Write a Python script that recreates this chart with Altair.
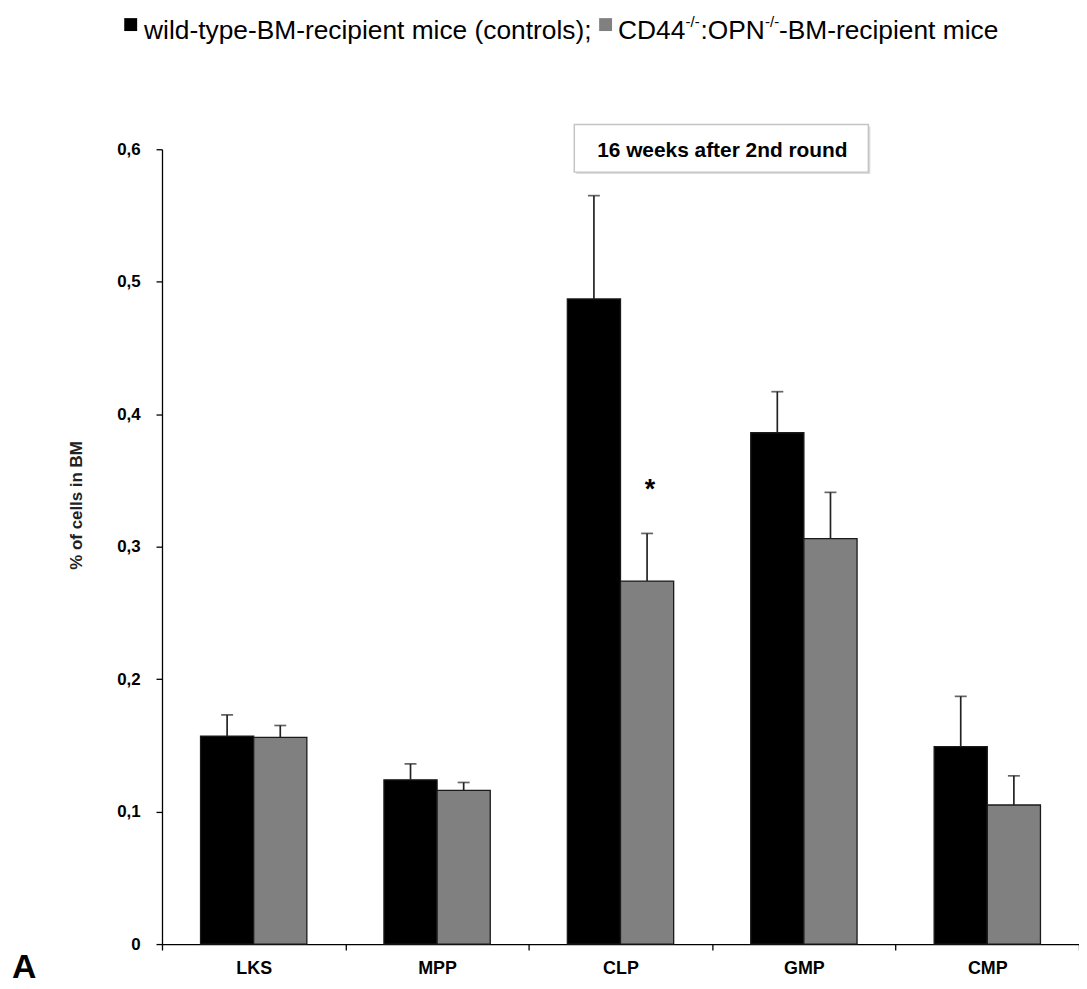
import altair as alt
import pandas as pd

# ---- data ----
categories = ["LKS", "MPP", "CLP", "GMP", "CMP"]
groups = ["wild-type-BM-recipient mice (controls)", "CD44-/-:OPN-/--BM-recipient mice"]
wt_mean = [0.157, 0.124, 0.487, 0.386, 0.149]
wt_upper = [0.173, 0.136, 0.565, 0.417, 0.187]
ko_mean = [0.156, 0.116, 0.274, 0.306, 0.105]
ko_upper = [0.165, 0.122, 0.310, 0.341, 0.127]
y_ticks = [0, 0.1, 0.2, 0.3, 0.4, 0.5, 0.6]
colors = ["#000000", "#808080"]

star_cat = ["CLP"]
star_grp = [groups[1]]
star_y = [0.343]

FONT = "Liberation Sans"

rows = []
for i, c in enumerate(categories):
    rows.append(dict(cat=c, grp=groups[0], mean=wt_mean[i], upper=wt_upper[i]))
    rows.append(dict(cat=c, grp=groups[1], mean=ko_mean[i], upper=ko_upper[i]))
df = pd.DataFrame(rows)
df_star = pd.DataFrame(dict(cat=star_cat, grp=star_grp, y=star_y, t=["*"]))

W, H = 923, 800

x_enc = alt.X(
    "cat:N", sort=categories,
    scale=alt.Scale(domain=categories, paddingInner=0, paddingOuter=0),
    axis=alt.Axis(title=None, labelAngle=0, tickBand="extent", labelFont=FONT,
                  labelFontSize=18, labelFontWeight="bold", labelColor="black",
                  domainColor="black", tickColor="black", tickSize=6, labelPadding=10,
                  domainWidth=1.3, tickWidth=1.3),
)
xo_enc = alt.XOffset("grp:N", sort=groups,
                     scale=alt.Scale(domain=groups, paddingInner=0, paddingOuter=0.725))
y_scale = alt.Scale(domain=[0, 0.6], nice=False, zero=True)
y_axis = alt.Axis(
    values=y_ticks,
    labelExpr="datum.value == 0 ? '0' : replace(format(datum.value, '.1f'), '.', ',')",
    title="% of cells in BM", titleFont=FONT, titleFontSize=17, titleFontWeight="bold",
    titleColor="#222", titleAngle=270, titleX=-86, titleY=358, titleAlign="center",
    titleBaseline="middle",
    labelFont=FONT, labelFontSize=17, labelFontWeight="bold", labelColor="black",
    domainColor="black", tickColor="black", tickSize=6, labelPadding=16,
    domainWidth=1.3, tickWidth=1.3,
)
color_enc = alt.Color("grp:N", scale=alt.Scale(domain=groups, range=colors), legend=None)

base = alt.Chart(df)
bars = base.mark_bar(stroke="#1a1a1a", strokeWidth=1.3).encode(
    x=x_enc, xOffset=xo_enc,
    y=alt.Y("mean:Q", scale=y_scale, axis=y_axis),
    color=color_enc,
)
err = base.mark_rule(color="#222222", strokeWidth=1.7).encode(
    x=x_enc, xOffset=xo_enc, y=alt.Y("mean:Q", scale=y_scale), y2="upper:Q"
)
caps = base.mark_tick(color="#222222", thickness=1.7, size=12).encode(
    x=x_enc, xOffset=xo_enc, y=alt.Y("upper:Q", scale=y_scale)
)
star = alt.Chart(df_star).mark_text(font=FONT, fontSize=27, fontWeight="bold",
                                    baseline="middle", color="black", dx=3).encode(
    x=x_enc, xOffset=xo_enc, y=alt.Y("y:Q", scale=y_scale), text="t:N"
)

# ---- annotations (pixel positions relative to plot area) ----
def txt(s, xv, yv, size, weight="normal", align="left", color="black"):
    return alt.Chart(pd.DataFrame({"t": [s]})).mark_text(
        font=FONT, fontSize=size, fontWeight=weight, align=align,
        baseline="alphabetic", color=color
    ).encode(x=alt.value(xv), y=alt.value(yv), text="t:N")

def box(x1, x2, y1, y2, fill, stroke=None, sw=0):
    kw = dict(fill=fill)
    if stroke:
        kw.update(stroke=stroke, strokeWidth=sw)
    return alt.Chart(pd.DataFrame({"t": [0]})).mark_rect(**kw).encode(
        x=alt.value(x1), x2=alt.value(x2), y=alt.value(y1), y2=alt.value(y2)
    )

LF = 26.5
legend_layers = [
    box(-38, -25, -132, -119, colors[0]),
    txt("wild-type-BM-recipient mice (controls);", -18, -111, LF),
    box(440, 453, -132, -119, colors[1]),
    txt("CD44", 459, -111, LF),
    txt("-/-", 527, -123, 15),
    txt(":OPN", 542, -111, LF),
    txt("-/-", 607, -123, 15),
    txt("-BM-recipient mice", 621, -111, LF),
]

title_layers = [
    box(417, 713, -23, 25, "#dcdcdc"),
    box(415, 711, -25, 23, "white", "#c4c4c4", 1.5),
    txt("16 weeks after 2nd round", 564, 8, 21, weight="bold", align="center"),
]

panel = [txt("A", -151, 834, 34, weight="bold")]

chart = alt.layer(
    bars, err, caps, star, *title_layers, *legend_layers, *panel
).properties(
    width=W, height=H,
    autosize=alt.AutoSizeParams(type="none"),
    padding={"left": 155, "top": 139, "right": 0, "bottom": 38},
).configure_view(stroke=None).configure_axis(grid=False)

chart.save("out.html", embed_options={"renderer": "svg", "actions": False})
